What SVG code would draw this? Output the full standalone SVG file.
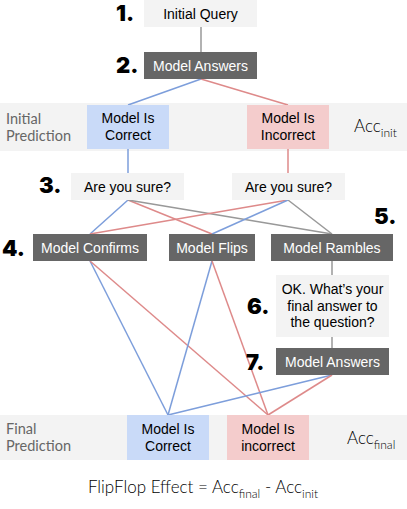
<svg xmlns="http://www.w3.org/2000/svg" width="407" height="509" viewBox="0 0 407 509">
<style>
.lt{fill:#f3f3f3}
.dk{fill:#666666}
.bl{fill:#c9daf8}
.rd{fill:#f4cccc}
.t{font-family:"Liberation Sans",Arial,sans-serif;font-size:14px;fill:#000;text-anchor:middle}
.tw{font-family:"Liberation Sans",Arial,sans-serif;font-size:14px;fill:#fff;text-anchor:middle}
.num{font-family:Inter,"DejaVu Sans",sans-serif;font-weight:900;font-size:22px;fill:#000}
.lab{font-family:Lato,"Open Sans",sans-serif;font-weight:400;font-size:14.5px;fill:#666}
.acc{font-family:Lato,"Open Sans",sans-serif;font-weight:300;font-size:17px;fill:#000}
.cb{stroke:#7d9edb;stroke-width:1.5;fill:none}
.cr{stroke:#de8a8a;stroke-width:1.5;fill:none}
.cg{stroke:#999;stroke-width:1.5;fill:none}
</style>
<rect class="lt" x="0" y="103" width="407" height="48"/>
<rect class="lt" x="0" y="415" width="407" height="45"/>
<g id="connectors">
<line class="cg" x1="201" y1="27" x2="201" y2="52"/>
<line class="cb" x1="201" y1="79" x2="128" y2="105"/>
<line class="cr" x1="201" y1="79" x2="288" y2="105"/>
<line class="cb" x1="128" y1="149" x2="128" y2="173"/>
<line class="cr" x1="288" y1="149" x2="288" y2="173"/>
<line class="cb" x1="128" y1="200" x2="90" y2="234"/>
<line class="cr" x1="128" y1="200" x2="212" y2="234"/>
<line class="cg" x1="128" y1="200" x2="332" y2="234"/>
<line class="cr" x1="288" y1="200" x2="90" y2="234"/>
<line class="cb" x1="288" y1="200" x2="212" y2="234"/>
<line class="cg" x1="288" y1="200" x2="332" y2="234"/>
<line class="cg" x1="332" y1="261" x2="332" y2="275"/>
<line class="cg" x1="332" y1="337" x2="332" y2="349"/>
<line class="cb" x1="90" y1="261" x2="168" y2="415"/>
<line class="cr" x1="90" y1="261" x2="268" y2="415"/>
<line class="cb" x1="212" y1="261" x2="168" y2="415"/>
<line class="cr" x1="212" y1="261" x2="268" y2="415"/>
<line class="cb" x1="332" y1="375" x2="168" y2="415"/>
<line class="cr" x1="332" y1="375" x2="268" y2="415"/>
</g>
<g id="initial-query"><rect class="lt" x="144" y="0" width="113" height="27"/><text class="t" x="200.5" y="18.5">Initial Query</text></g>
<g id="model-answers-1"><rect class="dk" x="144" y="52" width="113" height="27"/><text class="tw" x="200.5" y="70.5">Model Answers</text></g>
<g id="initial-correct"><rect class="bl" x="87" y="105" width="82" height="44"/><text class="t" x="128" y="123">Model Is</text><text class="t" x="128" y="140">Correct</text></g>
<g id="initial-incorrect"><rect class="rd" x="247" y="105" width="82" height="44"/><text class="t" x="288" y="123">Model Is</text><text class="t" x="288" y="140">Incorrect</text></g>
<g id="sure-left"><rect class="lt" x="71" y="173" width="113" height="27"/><text class="t" x="127.5" y="191.5">Are you sure?</text></g>
<g id="sure-right"><rect class="lt" x="232" y="173" width="113" height="27"/><text class="t" x="288.5" y="191.5">Are you sure?</text></g>
<g id="confirms"><rect class="dk" x="33" y="234" width="114" height="27"/><text class="tw" x="90" y="252.5">Model Confirms</text></g>
<g id="flips"><rect class="dk" x="169" y="234" width="86" height="27"/><text class="tw" x="212" y="252.5">Model Flips</text></g>
<g id="rambles"><rect class="dk" x="271" y="234" width="122" height="27"/><text class="tw" x="332" y="252.5">Model Rambles</text></g>
<g id="final-question"><rect class="lt" x="276" y="275" width="113" height="62"/><text class="t" x="332.5" y="294">OK. What’s your</text><text class="t" x="332.5" y="311">final answer to</text><text class="t" x="332.5" y="327">the question?</text></g>
<g id="model-answers-2"><rect class="dk" x="276" y="348" width="113" height="27"/><text class="tw" x="332.5" y="366.5">Model Answers</text></g>
<g id="final-correct"><rect class="bl" x="127" y="415" width="82" height="45"/><text class="t" x="168" y="434">Model Is</text><text class="t" x="168" y="451">Correct</text></g>
<g id="final-incorrect"><rect class="rd" x="227" y="415" width="82" height="45"/><text class="t" x="268" y="434">Model Is</text><text class="t" x="268" y="451">incorrect</text></g>
<g id="labels">
<text class="lab" x="6" y="124">Initial</text>
<text class="lab" x="6" y="141">Prediction</text>
<text class="lab" x="6" y="434">Final</text>
<text class="lab" x="6" y="451">Prediction</text>
<text class="acc" x="354" y="132">Acc<tspan font-size="12" dy="5">init</tspan></text>
<text class="acc" x="347" y="444">Acc<tspan font-size="12" dy="5">final</tspan></text>
<text class="acc" x="203" y="493" text-anchor="middle">FlipFlop Effect = Acc<tspan font-size="12" dy="5">final</tspan><tspan dy="-5"> - Acc</tspan><tspan font-size="12" dy="5">init</tspan></text>
</g>
<g id="numbers">
<text class="num" x="116" y="21">1.</text>
<text class="num" x="116" y="73">2.</text>
<text class="num" x="39" y="193">3.</text>
<text class="num" x="2" y="256">4.</text>
<text class="num" x="374" y="224">5.</text>
<text class="num" x="247" y="314">6.</text>
<text class="num" x="246" y="370">7.</text>
</g>
</svg>
